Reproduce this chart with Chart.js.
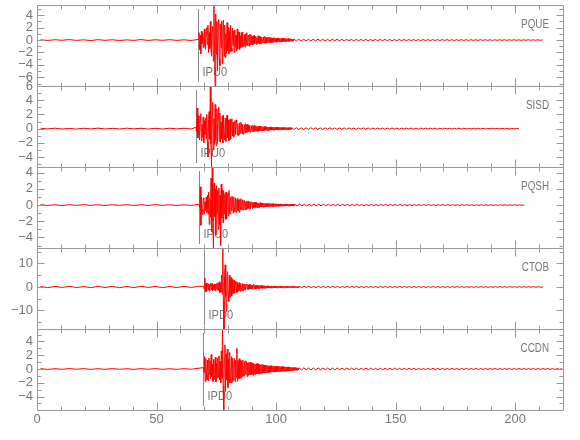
<!DOCTYPE html>
<html><head><meta charset="utf-8">
<script src="https://cdn.jsdelivr.net/npm/chart.js@4/dist/chart.umd.min.js"></script>
<style>html,body{margin:0;padding:0;background:#fff}canvas{display:block}</style>
</head><body>
<canvas id="c" width="580" height="440"></canvas>
<script>
// ---------- DATA ----------
const stations = ['PQUE', 'SISD', 'PQSH', 'CTOB', 'CCDN'];
const pickTimes = [67.5, 66.5, 67.8, 69.7, 69.6];
const pickLabels = ['IPU0', 'IPU0', 'IPU0', 'IPD0', 'IPD0'];
const yMins = [-7.4, -5.4, -5.3, -17.9, -5.95];
const yMaxs = [5.65, 6.0, 4.7, 16.6, 5.8];
const pqueTicks = [-6, -4, -2, 0, 2, 4];
const sisdTicks = [-4, -2, 0, 2, 4, 6];
const pqshTicks = [-4, -2, 0, 2, 4];
const ctobTicks = [-10, 0, 10];
const ccdnTicks = [-4, -2, 0, 2, 4];
const yMajorSteps = [2, 2, 2, 10, 2];
const yMinorSteps = [1, 1, 1, 5, 1];
const xTickLabels = [0, 50, 100, 150, 200];
const xMin = 0, xMax = 220, xMajorStep = 50, xMinorStep = 10;
// sampling of the traces (seconds)
const preStart = 1.5, preStep = 3, eventStep = 0.25, codaStep = 1;

const pquePre = [0.04,-0.06,0.05,-0.03,0.07,-0.05,0.04,-0.08,0.06,-0.04,0.05,-0.07,0.03,-0.05,0.08,-0.06,0.05,-0.04,0.06,-0.05,0.04,-0.06];
const pqueEvent = [
 0.1,1.2,-1.6,0.8, -2.2,1.4,-0.6,1.1, -1.2,0.5,1.8,-1.0, -1.5,0.9,2.0,-0.7,
 2.4,-2.0,1.2,-1.4, 3.0,-1.1,-2.6,1.7, 2.2,-3.4,5.65,-1.5, -7.4,4.2,-2.3,3.0,
 -5.0,1.6,3.3,-3.0, -4.2,2.6,-1.2,3.1, -3.8,1.8,3.2,-2.6, 2.4,-2.8,1.0,-2.1,
 2.8,-1.7,2.0,-2.2, 1.4,-1.9,2.4,-1.3, -1.8,1.9,-0.9,1.5, -2.0,1.6,-1.2,0.8,
 -1.7,1.8,-1.4,1.1, 1.3,-1.5,0.7,-1.2, 1.2,-1.1,1.3,-0.6, -1.0,0.9,-1.1,1.0,
 -0.8,1.2,-0.9,0.5, 0.8,-1.0,0.9,-0.7, 0.9,-0.7,0.6,-0.8, 0.7,-0.6,0.8,-0.5,
 0.6,-0.7,0.4,-0.6, 0.7,-0.5,0.6,-0.6, 0.5,-0.6,0.5,-0.3, -0.4,0.5,-0.5,0.6,
 0.4,-0.5,0.4,-0.4, 0.45,-0.35,0.5,-0.4, 0.4,-0.4,0.35,-0.45, 0.3,-0.35,0.4,-0.3,
 0.35,-0.3,0.3,-0.35, 0.3,-0.25,0.35,-0.3, 0.28,-0.3,0.25,-0.3, 0.3,-0.25,0.3,-0.22,
 0.25,-0.28,0.22,-0.25, 0.25,-0.2,0.24,-0.22, 0.2,-0.18,0.19,-0.17, 0.18,-0.17,0.16,-0.17];
const pqueCoda = [0.16,-0.15,0.14,-0.16,0.15,-0.13,0.14,-0.15,0.13,-0.14,
 0.14,-0.12,0.13,-0.13,0.12,-0.13,0.12,-0.11,0.12,-0.12,
 0.11,-0.12,0.11,-0.1,0.11,-0.11,0.1,-0.11,0.1,-0.1,
 0.1,-0.1,0.09,-0.1,0.1,-0.09,0.09,-0.09,0.1,-0.08,
 0.09,-0.09,0.08,-0.09,0.09,-0.08,0.08,-0.09,0.08,-0.08,
 0.08,-0.08,0.07,-0.08,0.08,-0.07,0.07,-0.08,0.07,-0.07,
 0.07,-0.07,0.07,-0.06,0.07,-0.07,0.06,-0.07,0.06,-0.06,
 0.07,-0.06,0.06,-0.06,0.06,-0.06,0.05,-0.06,0.06,-0.05,
 0.06,-0.05,0.05,-0.06,0.05,-0.05,0.05,-0.05,0.05,-0.05,
 0.05,-0.04,0.05,-0.05,0.04,-0.05,0.04,-0.04,0.05,-0.04,
 0.04,-0.04,0.04,-0.04,0.03];

const sisdPre = [0.05,-0.04,0.06,-0.05,0.03,-0.06,0.05,-0.04,0.07,-0.05,0.04,-0.05,0.06,-0.03,0.05,-0.06,0.04,-0.05,0.06,-0.04,0.05,-0.05];
const sisdEvent = [
 0.2,-0.4,2.9,-1.3, 1.8,-0.9,-1.6,1.2, 2.1,-1.7,0.6,-1.2, 1.6,-2.0,1.1,-0.8,
 1.5,-1.4,2.0,-1.9, -4.0,1.3,2.4,-1.5, 6.0,-2.2,-5.4,1.9, 3.7,-3.0,1.4,-2.2,
 3.4,-1.6,-2.4,2.8, -2.1,1.5,3.0,-1.8, 2.2,-1.9,0.9,-1.4, 1.8,-2.0,1.9,-0.8,
 -1.6,1.5,-1.8,1.4, 1.9,-1.3,1.2,-1.7, -1.1,1.3,-1.5,0.9, 1.4,-1.0,0.9,-1.2,
 -1.0,1.1,-0.8,1.2, 0.9,-0.9,0.7,-1.0, -0.8,0.8,-0.6,0.9, 0.7,-0.7,0.6,-0.8,
 -0.6,0.55,-0.6,0.7, 0.5,-0.55,0.6,-0.45, 0.5,-0.4,0.45,-0.5, -0.45,0.4,-0.4,0.5,
 0.35,-0.4,0.45,-0.35, 0.4,-0.35,0.3,-0.4, 0.3,-0.35,0.35,-0.3, 0.3,-0.25,0.32,-0.3,
 0.25,-0.3,0.28,-0.25, 0.3,-0.22,0.25,-0.28, 0.22,-0.25,0.2,-0.24, 0.25,-0.2,0.22,-0.2,
 0.2,-0.22,0.18,-0.2, 0.22,-0.18,0.2,-0.17, 0.18,-0.2,0.16,-0.18, 0.17,-0.16,0.18,-0.15,
 0.16,-0.17,0.14,-0.16, 0.15,-0.14,0.16,-0.13, 0.14,-0.15,0.13,-0.14, 0.13,-0.12,0.14,-0.12];
const sisdCoda = [0.14,-0.12,0.13,-0.14,0.11,-0.13,0.12,-0.11,0.13,-0.1,
 0.12,-0.11,0.1,-0.12,0.11,-0.1,0.12,-0.09,0.1,-0.11,
 0.1,-0.1,0.09,-0.1,0.1,-0.09,0.08,-0.1,0.09,-0.08,
 0.1,-0.08,0.09,-0.09,0.08,-0.08,0.09,-0.07,0.08,-0.09,
 0.07,-0.08,0.08,-0.07,0.07,-0.08,0.06,-0.07,0.08,-0.06,
 0.07,-0.07,0.06,-0.07,0.07,-0.06,0.06,-0.06,0.07,-0.05,
 0.06,-0.06,0.05,-0.06,0.06,-0.05,0.05,-0.06,0.05,-0.05,
 0.06,-0.05,0.05,-0.05,0.04,-0.05,0.05,-0.04,0.05,-0.05,
 0.04,-0.05,0.04,-0.04,0.05,-0.04,0.04,-0.04,0.04,-0.03,
 0.04,-0.04,0.03,-0.04,0.03,0];

const pqshPre = [0.05,-0.05,0.04,-0.06,0.05,-0.04,0.06,-0.05,0.04,-0.06,0.05,-0.04,0.06,-0.05,0.04,-0.05,0.06,-0.04,0.05,-0.06,0.04,-0.05];
const pqshEvent = [
 0.1,-0.3,2.25,-2.5, 1.0,-0.6,-1.2,0.8, 0.9,-1.1,0.4,-0.7, 1.0,-0.9,1.2,-1.1,
 1.6,-2.4,0.8,-1.5, 3.3,-3.3,4.7,-2.0, -5.3,2.7,-1.4,2.0, -3.7,2.4,-1.0,1.8,
 -3.0,2.1,-2.4,1.2, -5.0,2.6,-1.6,1.9, -2.2,1.8,-1.1,1.4, -1.8,1.6,-1.7,0.9,
 1.5,-1.3,1.8,-1.0, -1.1,1.0,-0.7,1.1, 0.9,-1.0,1.0,-0.6, -0.8,0.9,-0.9,0.7,
 0.8,-0.7,0.6,-0.9, 0.7,-0.6,0.8,-0.5, -0.6,0.65,-0.6,0.5, 0.55,-0.6,0.4,-0.55,
 0.5,-0.45,0.5,-0.4, -0.45,0.4,-0.45,0.35, 0.4,-0.4,0.35,-0.35, 0.35,-0.3,0.35,-0.3,
 0.3,-0.3,0.28,-0.32, 0.25,-0.28,0.3,-0.22, 0.25,-0.22,0.24,-0.25, 0.2,-0.22,0.22,-0.2,
 0.2,-0.2,0.18,-0.2, 0.18,-0.18,0.2,-0.16, 0.18,-0.16,0.17,-0.18, 0.16,-0.17,0.15,-0.15,
 0.16,-0.14,0.15,-0.15, 0.14,-0.15,0.13,-0.14, 0.14,-0.13,0.14,-0.12, 0.13,-0.13,0.12,-0.13,
 0.12,-0.12,0.13,-0.11, 0.12,-0.11,0.11,-0.12, 0.11,-0.11,0.12,-0.1, 0.11,-0.1,0.1,-0.11];
const pqshCoda = [0.11,-0.1,0.12,-0.1,0.1,-0.11,0.1,-0.1,0.11,-0.09,
 0.1,-0.1,0.09,-0.1,0.1,-0.09,0.09,-0.1,0.08,-0.09,
 0.09,-0.08,0.09,-0.09,0.08,-0.08,0.09,-0.07,0.08,-0.08,
 0.07,-0.08,0.08,-0.07,0.07,-0.08,0.07,-0.07,0.08,-0.06,
 0.07,-0.07,0.06,-0.07,0.07,-0.06,0.06,-0.07,0.06,-0.06,
 0.06,-0.06,0.05,-0.06,0.06,-0.05,0.06,-0.05,0.05,-0.06,
 0.05,-0.05,0.05,-0.05,0.06,-0.04,0.05,-0.05,0.04,-0.05,
 0.05,-0.04,0.05,-0.04,0.04,-0.05,0.04,-0.04,0.05,-0.04,
 0.04,-0.04,0.04,-0.04,0.03,-0.04,0.04,-0.03,0.04,-0.03,
 0.03,-0.03,0.04,-0.03,0.03,-0.03,0];

const ctobPre = [0.2,-0.3,0.25,-0.2,0.3,-0.25,0.2,-0.3,0.28,-0.22,0.25,-0.3,0.2,-0.25,0.3,-0.2,0.25,-0.28,0.22,-0.25,0.3,-0.2,0.25];
const ctobEvent = [
 0.3,-0.8,3.8,-2.0, 1.5,-1.9,0.7,1.7, -1.4,1.2,-1.8,0.6, 1.6,-1.2,1.4,-1.6,
 0.9,-1.1,1.3,-1.7, 1.2,-0.8,1.5,-1.3, 1.8,-1.5,2.2,-2.5, 1.6,-2.0,5.0,-3.0,
 16.6,-6.0,-17.9,4.5, 9.4,-4.2,-10.5,3.8, 6.5,-3.4,-6.2,5.0, -4.4,2.2,4.0,-3.8,
 3.2,-2.4,-3.0,2.8, -2.6,1.6,2.4,-2.5, 2.0,-2.2,1.4,-1.6, 1.9,-1.8,1.6,-1.1,
 -1.5,1.4,-1.6,1.3, -1.2,1.3,-1.1,0.9, 1.2,-1.0,1.1,-1.1, 1.0,-0.9,1.0,-0.8,
 -0.9,0.8,-0.9,1.0, 0.8,-0.8,0.7,-0.8, 0.7,-0.7,0.6,-0.75, 0.6,-0.6,0.65,-0.55,
 0.6,-0.5,0.55,-0.6, 0.5,-0.55,0.5,-0.5, 0.45,-0.5,0.5,-0.4, 0.45,-0.45,0.4,-0.45,
 0.4,-0.4,0.45,-0.38, 0.4,-0.35,0.38,-0.4, 0.35,-0.38,0.36,-0.32, 0.35,-0.33,0.3,-0.35,
 0.32,-0.3,0.33,-0.3, 0.3,-0.32,0.28,-0.3, 0.3,-0.28,0.3,-0.27, 0.28,-0.3,0.26,-0.28,
 0.27,-0.26,0.28,-0.25, 0.26,-0.27,0.24,-0.26, 0.25,-0.24,0.26,-0.23, 0.24,-0.25,0.22,-0.24];
const ctobCoda = [0.3,-0.28,0.32,-0.25,0.28,-0.3,0.25,-0.27,0.3,-0.24,
 0.26,-0.28,0.24,-0.25,0.27,-0.22,0.25,-0.26,0.22,-0.25,
 0.24,-0.22,0.25,-0.2,0.23,-0.24,0.21,-0.22,0.24,-0.2,
 0.22,-0.21,0.2,-0.23,0.21,-0.2,0.22,-0.19,0.2,-0.21,
 0.19,-0.2,0.21,-0.18,0.2,-0.19,0.18,-0.2,0.19,-0.18,
 0.2,-0.17,0.18,-0.19,0.17,-0.18,0.19,-0.16,0.18,-0.18,
 0.17,-0.17,0.16,-0.18,0.17,-0.16,0.18,-0.15,0.16,-0.17,
 0.16,-0.16,0.15,-0.17,0.16,-0.15,0.16,-0.15,0.14,-0.16,
 0.15,-0.15,0.16,-0.14,0.15,-0.15,0.14,-0.14,0.15,-0.13,
 0.14,-0.14,0.13,-0.14,0.14,-0.13,0.13,-0.12,0.13,-0.12,
 0.12,-0.12,0];

const ccdnPre = [0.05,-0.06,0.04,-0.05,0.06,-0.04,0.05,-0.06,0.04,-0.05,0.06,-0.05,0.04,-0.06,0.05,-0.04,0.06,-0.05,0.04,-0.06,0.05,-0.04];
const ccdnEvent = [
 0.2,-0.5,1.8,-1.85, 1.5,-0.9,-1.6,1.3, -1.7,1.6,-0.8,1.2, -1.4,2.1,-1.1,0.7,
 -1.8,1.4,-1.5,1.0, 1.7,-1.9,0.8,-1.3, 1.6,-1.2,1.9,-1.6, 1.1,-2.0,2.6,-1.4,
 5.8,-2.5,-5.95,1.8, 3.5,-3.3,2.2,-1.6, 2.9,-2.7,1.4,-2.0, 2.4,-1.5,-2.0,1.8,
 -1.9,1.6,-1.7,0.9, 1.5,-1.8,1.3,-1.2, 3.0,-1.8,1.2,-1.4, 1.5,-1.4,1.3,-1.3,
 1.2,-1.1,1.3,-1.0, -1.0,1.1,-0.8,1.2, 1.0,-1.1,0.9,-0.9, 0.95,-0.85,1.0,-0.8,
 0.9,-0.8,0.85,-0.9, 0.8,-0.75,0.7,-0.8, 0.75,-0.7,0.8,-0.65, 0.7,-0.75,0.65,-0.7,
 0.6,-0.65,0.7,-0.6, 0.6,-0.55,0.55,-0.6, 0.55,-0.5,0.5,-0.55, 0.5,-0.5,0.45,-0.5,
 0.45,-0.45,0.5,-0.4, 0.45,-0.4,0.4,-0.45, 0.4,-0.4,0.38,-0.4, 0.38,-0.36,0.4,-0.35,
 0.35,-0.36,0.34,-0.35, 0.34,-0.33,0.35,-0.32, 0.32,-0.33,0.3,-0.32, 0.3,-0.31,0.3,-0.3,
 0.26,-0.25,0.25,-0.24, 0.22,-0.21,0.2,-0.21, 0.2,-0.19,0.19,-0.18, 0.18,-0.17,0.17,-0.16];
const ccdnCoda = [0.16,-0.15,0.16,-0.14,0.15,-0.15,0.14,-0.14,0.15,-0.13,
 0.14,-0.14,0.13,-0.14,0.14,-0.12,0.13,-0.13,0.12,-0.13,
 0.13,-0.12,0.12,-0.11,0.12,-0.12,0.11,-0.12,0.12,-0.11,
 0.11,-0.11,0.1,-0.11,0.11,-0.1,0.1,-0.11,0.1,-0.1,
 0.1,-0.1,0.1,-0.1,0.09,-0.1,0.1,-0.09,0.09,-0.09,
 0.09,-0.09,0.08,-0.09,0.09,-0.08,0.09,-0.08,0.08,-0.09,
 0.08,-0.08,0.08,-0.08,0.08,-0.08,0.07,-0.08,0.08,-0.07,
 0.08,-0.07,0.07,-0.07,0.07,-0.07,0.07,-0.07,0.07,-0.07,
 0.07,-0.06,0.07,-0.07,0.06,-0.07,0.07,-0.06,0.06,-0.07,
 0.06,-0.06,0.07,-0.06,0.06,-0.06,0.06,-0.06,0.06,-0.06,
 0.06,-0.06,0.06,-0.05,0.06,-0.06,0.05,-0.06,0.05,-0.05,
 0.05];

const tracePre = [pquePre, sisdPre, pqshPre, ctobPre, ccdnPre];
const traceEvent = [pqueEvent, sisdEvent, pqshEvent, ctobEvent, ccdnEvent];
const traceCoda = [pqueCoda, sisdCoda, pqshCoda, ctobCoda, ccdnCoda];
const yTickValues = [pqueTicks, sisdTicks, pqshTicks, ctobTicks, ccdnTicks];

// ---------- STYLE ----------
const FONT = "'Liberation Sans Narrow', 'Liberation Sans', 'DejaVu Sans', sans-serif";
const TEXT = '#777';
const AXIS = '#999';
const TRACE = '#ff0000';

function buildTrace(pick, pre, ev, coda) {
  const pts = [];
  pre.forEach((v, k) => pts.push({x: preStart + k * preStep, y: v}));
  ev.forEach((v, k) => pts.push({x: pick + k * eventStep, y: v}));
  const c0 = pick + ev.length * eventStep;
  coda.forEach((v, k) => pts.push({x: c0 + k * codaStep, y: v}));
  return pts;
}

const datasets = stations.map((s, i) => ({
  label: s,
  data: buildTrace(pickTimes[i], tracePre[i], traceEvent[i], traceCoda[i]),
  yAxisID: 'y' + i,
  borderColor: TRACE,
  borderWidth: 1,
  pointRadius: 0,
  tension: 0,
  fill: false
}));

const fmt = v => (v < 0 ? '\u2212' : '') + Math.abs(v);

const scales = {
  x: {
    type: 'linear', position: 'bottom', min: xMin, max: xMax,
    grid: {display: false, drawTicks: false}, border: {display: false},
    ticks: {autoSkip: false, maxRotation: 0, color: TEXT, padding: 2, font: {family: FONT, size: 13}},
    afterBuildTicks: s => { s.ticks = xTickLabels.map(v => ({value: v})); },
    afterFit: s => { s.height = 30; s.paddingLeft = 0; s.paddingRight = 0; }
  }
};
stations.forEach((s, i) => {
  scales['y' + i] = {
    type: 'linear', position: 'left', stack: 'traces', stackWeight: 1, weight: 10 - i,
    min: yMins[i], max: yMaxs[i],
    grid: {display: false, drawTicks: false}, border: {display: false},
    ticks: {autoSkip: false, color: TEXT, padding: 4, font: {family: FONT, size: 13}, callback: fmt},
    afterBuildTicks: sc => { sc.ticks = yTickValues[i].map(v => ({value: v})); },
    afterFit: sc => { sc.width = 37; sc.paddingTop = 0; sc.paddingBottom = 0; }
  };
});

function condensedText(ctx, txt, x, y, align, size, sx) {
  ctx.save();
  ctx.translate(x, y);
  ctx.scale(sx, 1);
  ctx.font = size + 'px ' + FONT;
  ctx.fillStyle = TEXT;
  ctx.textAlign = align;
  ctx.textBaseline = 'middle';
  ctx.fillText(txt, 0, 0);
  ctx.restore();
}

const panelPlugin = {
  id: 'panels',
  beforeDatasetsDraw(chart) {
    const ctx = chart.ctx, xs = chart.scales.x, ca = chart.chartArea;
    stations.forEach((name, i) => {
      const ys = chart.scales['y' + i];
      const px = Math.round(xs.getPixelForValue(pickTimes[i])) + 0.5;
      ctx.save();
      ctx.strokeStyle = '#888';
      ctx.lineWidth = 1;
      ctx.beginPath();
      ctx.moveTo(px, ys.top + 4);
      ctx.lineTo(px, ys.bottom - 4);
      ctx.stroke();
      ctx.restore();
      condensedText(ctx, pickLabels[i], px + 4, ys.bottom - 14, 'left', 13, 0.85);
      condensedText(ctx, name, ca.right - 14, ys.top + 20, 'right', 12, 0.82);
    });
  },
  beforeDatasetDraw(chart, args) {
    const ys = args.meta.yScale, ca = chart.chartArea, ctx = chart.ctx;
    ctx.save();
    ctx.beginPath();
    ctx.rect(ca.left, ys.top, ca.right - ca.left, ys.bottom - ys.top);
    ctx.clip();
  },
  afterDatasetDraw(chart) { chart.ctx.restore(); },
  afterDraw(chart) {
    const ctx = chart.ctx, xs = chart.scales.x, ca = chart.chartArea;
    ctx.save();
    ctx.strokeStyle = AXIS;
    ctx.lineWidth = 1;
    stations.forEach((name, i) => {
      const ys = chart.scales['y' + i];
      const t = Math.round(ys.top) + 0.5, b = Math.round(ys.bottom) + 0.5;
      const l = Math.round(ca.left) + 0.5, r = Math.round(ca.right) + 0.5;
      ctx.beginPath();
      ctx.rect(l, t, r - l, b - t);
      for (let v = xMin; v <= xMax + 1e-9; v += xMinorStep) {
        const x = Math.round(xs.getPixelForValue(v)) + 0.5;
        const len = (v % xMajorStep === 0) ? 8 : 4;
        ctx.moveTo(x, t); ctx.lineTo(x, t + len);
        ctx.moveTo(x, b); ctx.lineTo(x, b - len);
      }
      const ms = yMinorSteps[i];
      for (let v = Math.ceil(yMins[i] / ms) * ms; v <= yMaxs[i] + 1e-9; v += ms) {
        const y = Math.round(ys.getPixelForValue(v)) + 0.5;
        const len = (Math.abs(v % yMajorSteps[i]) < 1e-9) ? 7 : 4;
        ctx.moveTo(l, y); ctx.lineTo(l + len, y);
        ctx.moveTo(r, y); ctx.lineTo(r - len, y);
      }
      ctx.stroke();
    });
    ctx.restore();
  }
};

new Chart(document.getElementById('c'), {
  type: 'line',
  data: {datasets},
  options: {
    responsive: false,
    animation: false,
    devicePixelRatio: 1,
    layout: {padding: {left: 0, right: 17, top: 5, bottom: 0}},
    plugins: {legend: {display: false}, tooltip: {enabled: false}},
    scales
  },
  plugins: [panelPlugin]
});
</script>
</body></html>
